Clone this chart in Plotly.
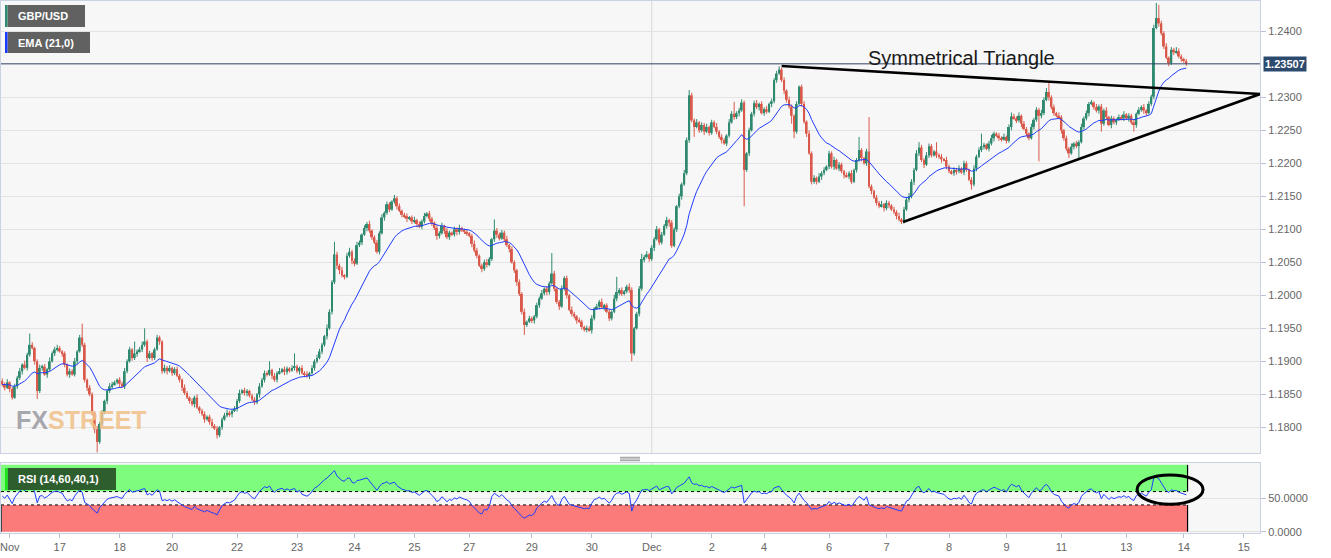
import plotly.graph_objects as go

# ---------------- data ----------------
symbol = "GBP/USD"
ema_label = "EMA (21,0)"
rsi_label = "RSI (14,60,40,1)"
pattern_label = "Symmetrical Triangle"

tick_idx = [3, 23, 47, 68, 94, 118, 141, 165, 187, 212, 236, 260, 284, 305, 331, 354, 379, 402, 424, 450, 473, 497]
tick_text = ["Nov", "17", "18", "20", "22", "23", "24", "25", "27", "29", "30", "Dec",
             "2", "4", "6", "7", "8", "9", "11", "13", "14", "15"]
price_ticks = [1.18, 1.185, 1.19, 1.195, 1.20, 1.205, 1.21, 1.215, 1.22, 1.225, 1.23, 1.24]
rsi_ticks = [0, 50]

first_open_pips = 1870
# hourly closes, in pips above 1.0000
close_pips = [
    1865, 1860, 1868, 1858, 1845, 1862, 1875, 1885, 1895, 1890,
    1910, 1925, 1920, 1900, 1855, 1890, 1892, 1880, 1888, 1900,
    1912, 1918, 1920, 1915, 1912, 1895, 1880, 1885, 1880, 1900,
    1915, 1936, 1925, 1872, 1860, 1850, 1822, 1797, 1778, 1805,
    1822, 1840, 1855, 1862, 1865, 1868, 1872, 1866, 1862, 1885,
    1900, 1918, 1905, 1912, 1915, 1918, 1925, 1930, 1905, 1912,
    1905, 1918, 1936, 1930, 1885, 1890, 1885, 1890, 1882, 1888,
    1878, 1872, 1860, 1852, 1845, 1840, 1835, 1845, 1830, 1825,
    1820, 1812, 1816, 1808, 1802, 1798, 1788, 1800, 1812, 1818,
    1822, 1820, 1825, 1828, 1840, 1852, 1856, 1852, 1855, 1848,
    1842, 1838, 1850, 1862, 1872, 1882, 1880, 1887, 1878, 1872,
    1882, 1885, 1888, 1884, 1889, 1886, 1890, 1892, 1885, 1890,
    1882, 1880, 1878, 1882, 1890, 1900, 1905, 1915, 1925, 1938,
    1950, 1975, 2020, 2062, 2045, 2038, 2030, 2028, 2060, 2066,
    2052, 2048, 2076, 2080, 2092, 2102, 2108, 2098, 2088, 2080,
    2066, 2094, 2118, 2125, 2138, 2130, 2142, 2147, 2135, 2128,
    2122, 2120, 2116, 2118, 2112, 2114, 2108, 2104, 2112, 2120,
    2124, 2116, 2110, 2102, 2090, 2094, 2105, 2098, 2088, 2095,
    2092, 2100, 2096, 2102, 2098, 2096, 2094, 2090, 2078, 2068,
    2060, 2045, 2040, 2050, 2046, 2055, 2085, 2098, 2092, 2086,
    2095, 2085, 2076, 2070, 2050, 2038, 2020, 2002, 1975, 1955,
    1960, 1965, 1962, 1968, 1985, 1995, 2003, 2010, 2005, 2018,
    2033, 2010, 1990, 1983, 2010, 2026, 2000, 1978, 1972, 1968,
    1962, 1960, 1952, 1948, 1950, 1947, 1965, 1980, 1983, 1990,
    1982, 1985, 1975, 1965, 1975, 1995, 2005, 2008, 2002, 2006,
    2013, 2008, 1912, 1950, 1972, 2010, 2055, 2058, 2062, 2055,
    2072, 2085, 2100, 2080, 2092, 2105, 2114, 2110, 2075, 2100,
    2135, 2150, 2168, 2185, 2235, 2303, 2265, 2255, 2262, 2250,
    2258, 2248, 2255, 2246, 2262, 2255, 2248, 2240, 2235, 2230,
    2242, 2262, 2275, 2270, 2276, 2280, 2292, 2190, 2215, 2250,
    2275, 2291, 2285, 2290, 2276, 2282, 2278, 2290, 2294, 2326,
    2336, 2342, 2326, 2310, 2296, 2286, 2272, 2248, 2290, 2316,
    2290, 2263, 2245, 2215, 2172, 2178, 2172, 2180, 2185, 2190,
    2195, 2215, 2195, 2205, 2192, 2198, 2188, 2182, 2180, 2185,
    2172, 2190, 2205, 2220, 2208, 2200, 2218, 2165, 2158, 2148,
    2140, 2135, 2138, 2132, 2140, 2136, 2130, 2126, 2120, 2115,
    2112, 2130, 2145, 2150, 2172, 2190, 2215, 2224, 2205, 2198,
    2212, 2226, 2212, 2218, 2212, 2210, 2206, 2205, 2195, 2188,
    2185, 2190, 2188, 2192, 2186, 2200, 2190, 2175, 2168, 2192,
    2210, 2220, 2226, 2228, 2222, 2230, 2238, 2245, 2242, 2238,
    2236, 2240, 2234, 2255, 2271, 2268, 2265, 2272, 2260, 2252,
    2245, 2238, 2255, 2266, 2281, 2272, 2276, 2296, 2308, 2300,
    2285, 2276, 2272, 2270, 2250, 2238, 2222, 2215, 2225, 2230,
    2226, 2232, 2255, 2268, 2276, 2290, 2292, 2285, 2280, 2286,
    2260, 2280, 2270, 2258, 2268, 2262, 2266, 2270, 2268, 2274,
    2268, 2272, 2262, 2258, 2275, 2281, 2285, 2280, 2276, 2290,
    2301, 2405, 2420, 2412, 2397, 2377, 2360, 2352, 2372, 2368,
    2370, 2362, 2358, 2355, 2350.7,
]
# upper / lower shadow lengths in pips
up_wick = [
    4, 3, 5, 2, 3, 4, 3, 5, 2, 6, 3, 17, 4, 2, 3, 5, 3, 4, 2, 6, 3, 4, 5, 3, 2,
    3, 2, 4, 3, 5, 2, 4, 21, 3, 2, 4, 3, 2, 5, 3, 4, 2, 3, 5, 4, 3, 2, 4, 3, 5,
    3, 4, 2, 18, 3, 4, 5, 20, 3, 4, 2, 3, 4, 3, 2, 5, 3, 4, 2, 3, 4, 3, 2, 5, 3,
    2, 4, 3, 5, 2, 3, 4, 2, 3, 5, 3, 4, 2, 3, 4, 5, 3, 2, 4, 3, 5, 2, 4, 3, 2,
    3, 4, 2, 5, 3, 4, 3, 13, 2, 4, 3, 5, 2, 4, 3, 2, 4, 20, 3, 2, 4, 3, 5, 2, 4,
    3, 5, 4, 3, 2, 6, 4, 3, 19, 4, 3, 5, 2, 4, 6, 3, 4, 5, 3, 2, 4, 3, 5, 2, 3,
    4, 3, 5, 2, 4, 3, 2, 5, 3, 4, 2, 3, 4, 2, 3, 5, 2, 4, 3, 5, 2, 4, 3, 2, 4,
    3, 5, 2, 4, 3, 2, 4, 3, 5, 2, 3, 4, 2, 3, 5, 4, 2, 3, 4, 5, 3, 2, 17, 4, 3,
    4, 3, 5, 2, 4, 3, 2, 4, 3, 5, 2, 4, 3, 2, 4, 3, 5, 2, 4, 3, 31, 4, 2, 3, 5,
    3, 4, 2, 5, 3, 2, 4, 3, 2, 4, 3, 5, 2, 4, 3, 5, 2, 3, 4, 2, 6, 23, 3, 4, 2,
    3, 5, 4, 2, 3, 4, 8, 3, 5, 2, 4, 3, 5, 2, 4, 3, 5, 2, 4, 3, 2, 4, 3, 5, 4,
    8, 4, 3, 5, 2, 4, 3, 5, 2, 4, 3, 6, 2, 4, 3, 2, 5, 4, 18, 3, 4, 5, 3, 2, 4,
    3, 4, 5, 2, 4, 3, 5, 2, 4, 3, 4, 5, 3, 4, 2, 5, 3, 2, 4, 2, 3, 4, 2, 5, 3,
    4, 2, 5, 3, 4, 2, 4, 3, 5, 2, 4, 3, 2, 4, 3, 5, 2, 3, 20, 3, 2, 4, 52, 3, 2,
    4, 3, 5, 2, 4, 3, 2, 4, 3, 5, 2, 4, 3, 5, 4, 3, 5, 8, 4, 3, 5, 4, 3, 2, 14,
    3, 4, 2, 5, 3, 2, 4, 3, 5, 2, 4, 3, 2, 4, 5, 3, 4, 19, 3, 2, 4, 5, 3, 2, 4,
    3, 5, 2, 4, 6, 4, 3, 5, 2, 4, 3, 2, 5, 3, 4, 3, 5, 4, 6, 16, 3, 4, 2, 5, 3,
    2, 4, 3, 5, 2, 4, 3, 5, 3, 4, 3, 4, 2, 5, 3, 4, 3, 5, 2, 4, 3, 2, 4, 3, 5,
    2, 4, 3, 5, 2, 4, 3, 5, 2, 4, 3, 5, 23, 20, 4, 3, 5, 2, 4, 3, 6, 4, 3, 2, 3,
]
dn_wick = [
    3, 4, 2, 5, 3, 2, 4, 3, 5, 2, 4, 3, 2, 5, 12, 3, 4, 2, 5, 3, 2, 4, 3, 2, 5,
    4, 3, 5, 2, 3, 4, 2, 3, 4, 5, 3, 4, 6, 16, 3, 4, 2, 5, 3, 4, 2, 3, 5, 2, 4,
    3, 2, 4, 3, 5, 2, 4, 3, 6, 2, 4, 3, 2, 5, 4, 3, 5, 2, 4, 3, 2, 4, 5, 3, 2,
    4, 3, 5, 2, 4, 3, 5, 2, 4, 3, 2, 5, 3, 4, 2, 3, 4, 5, 2, 4, 3, 2, 4, 5, 3,
    2, 4, 3, 5, 2, 4, 3, 2, 5, 3, 4, 2, 3, 5, 4, 3, 2, 4, 3, 5, 2, 4, 3, 5, 2,
    4, 3, 2, 4, 3, 5, 2, 4, 3, 5, 6, 3, 4, 2, 3, 5, 4, 2, 3, 4, 2, 5, 3, 4, 2,
    3, 4, 2, 5, 3, 4, 2, 3, 5, 2, 4, 3, 5, 2, 4, 3, 5, 2, 4, 3, 2, 4, 5, 3, 6,
    4, 2, 5, 3, 4, 2, 3, 5, 4, 2, 3, 4, 2, 5, 3, 4, 2, 5, 3, 4, 2, 3, 4, 5, 3,
    2, 4, 3, 5, 2, 4, 6, 3, 4, 15, 3, 2, 4, 5, 3, 4, 2, 3, 5, 4, 2, 4, 3, 5, 2,
    3, 5, 2, 4, 3, 5, 2, 4, 3, 4, 2, 5, 3, 2, 4, 3, 5, 2, 4, 3, 2, 4, 5, 3, 2,
    3, 4, 12, 3, 2, 4, 3, 5, 2, 4, 3, 5, 2, 4, 3, 2, 4, 6, 3, 2, 4, 3, 5, 2, 3,
    4, 3, 15, 2, 4, 3, 5, 2, 4, 3, 2, 4, 3, 5, 2, 4, 3, 2, 4, 3, 5, 2, 55, 3, 4,
    2, 4, 3, 5, 2, 4, 3, 2, 5, 3, 4, 2, 3, 5, 4, 3, 12, 10, 3, 2, 4, 3, 5, 2, 4,
    3, 4, 2, 5, 3, 2, 4, 3, 5, 2, 4, 3, 5, 2, 4, 3, 2, 4, 3, 5, 2, 4, 3, 5, 2,
    4, 3, 2, 5, 3, 4, 2, 3, 5, 3, 4, 3, 2, 4, 3, 5, 2, 4, 3, 5, 2, 4, 3, 2, 4,
    3, 5, 2, 4, 3, 2, 4, 5, 3, 2, 4, 3, 2, 8, 3, 4, 2, 3, 5, 2, 4, 3, 5, 2, 4,
    3, 2, 4, 3, 5, 2, 4, 3, 5, 2, 4, 3, 2, 4, 3, 69, 4, 3, 2, 5, 3, 4, 2, 3, 5,
    4, 3, 7, 2, 4, 3, 20, 2, 4, 3, 5, 2, 4, 3, 5, 12, 3, 4, 2, 5, 3, 4, 2, 3, 4,
    2, 5, 3, 10, 4, 2, 3, 5, 4, 2, 3, 4, 2, 5, 3, 4, 2, 5, 3, 4, 2, 3, 4, 3, 3,
]

ema_period = 21
rsi_period = 14
rsi_upper, rsi_lower = 60, 40
rsi_seed_gain, rsi_seed_loss = 3.2, 2.8

# triangle drawing (candle index, price)
tri_upper_x = [312, 503.5]
tri_upper_y = [1.23474, 1.2305]
tri_lower_x = [360.6, 503.5]
tri_lower_y = [1.2111, 1.2305]
pattern_pos = (384, 1.2360)
highlight_x = [454.3, 480.7]
highlight_y = [41, 85]

n = len(close_pips)
if not (len(up_wick) == n and len(dn_wick) == n):
    raise ValueError(f"length mismatch {n} {len(up_wick)} {len(dn_wick)}")

P = lambda v: 1 + v / 10000.0
closes = [P(v) for v in close_pips]
opens = [P(first_open_pips)] + closes[:-1]
highs = [max(o, c) + u / 10000.0 for o, c, u in zip(opens, closes, up_wick)]
lows = [min(o, c) - d / 10000.0 for o, c, d in zip(opens, closes, dn_wick)]
idx = list(range(n))

GREEN = "#2f8a6f"
RED = "#d9594b"

fig = go.Figure()

for is_up, col in [(True, GREEN), (False, RED)]:
    xs, bases, hts, wx, wy = [], [], [], [], []
    for i in idx:
        o, c = opens[i], closes[i]
        if (c >= o) != is_up:
            continue
        xs.append(i)
        bases.append(min(o, c))
        hts.append(max(abs(c - o), 0.00004))
        wx += [i, i, None]
        wy += [lows[i], highs[i], None]
    fig.add_trace(go.Scatter(x=wx, y=wy, mode="lines", line=dict(color=col, width=1),
                             xaxis="x", yaxis="y", hoverinfo="skip", showlegend=False))
    fig.add_trace(go.Bar(x=xs, y=hts, base=bases, width=0.78, marker=dict(color=col, line=dict(width=0)),
                         xaxis="x", yaxis="y", showlegend=False))

# EMA 21
alpha = 2.0 / (ema_period + 1)
ema = [closes[0]]
for c in closes[1:]:
    ema.append(alpha * c + (1 - alpha) * ema[-1])
fig.add_trace(go.Scatter(x=idx, y=ema, mode="lines", line=dict(color="#1f3dff", width=1),
                         xaxis="x", yaxis="y", showlegend=False))

# RSI 14 (Wilder)
ag, al = rsi_seed_gain, rsi_seed_loss
rsi = [100 - 100 / (1 + ag / al)]
for i in range(1, n):
    d = close_pips[i] - close_pips[i - 1]
    ag = (ag * (rsi_period - 1) + max(d, 0)) / rsi_period
    al = (al * (rsi_period - 1) + max(-d, 0)) / rsi_period
    rsi.append(100 - 100 / (1 + ag / al) if al > 0 else 100)
fig.add_trace(go.Scatter(x=idx, y=rsi, mode="lines", line=dict(color="#1f3dff", width=1),
                         xaxis="x2", yaxis="y2", showlegend=False))

# ---------------- layout ----------------
W, H = 1331, 558
ML, MR, MT, MB = 1, 71, 1, 25
PW, PH = W - ML - MR, H - MT - MB
px = lambda x: (x - ML) / PW
py = lambda y: (H - MB - y) / PH

FONT = "Liberation Sans, Arial, sans-serif"
BORDER = "#c9d1e3"
GRID = "#e3e3e3"
xr = [-0.5, 503.5]

shapes = []
annotations = []
band_end = n - 0.5
# RSI bands
shapes.append(dict(type="rect", xref="x2", yref="y2", x0=xr[0], x1=band_end, y0=rsi_upper, y1=100,
                   fillcolor="#7dfc7d", line=dict(width=0), layer="between"))
shapes.append(dict(type="rect", xref="x2", yref="y2", x0=xr[0], x1=band_end, y0=0, y1=rsi_lower,
                   fillcolor="#fb7b7b", line=dict(width=0), layer="between"))
for lv in (rsi_upper, rsi_lower):
    shapes.append(dict(type="line", xref="x2", yref="y2", x0=xr[0], x1=band_end, y0=lv, y1=lv,
                       line=dict(color="black", width=1, dash="dot"), layer="between"))
shapes.append(dict(type="line", xref="x2", yref="y2", x0=band_end, x1=band_end, y0=rsi_upper, y1=100,
                   line=dict(color="black", width=1.2), layer="between"))
shapes.append(dict(type="line", xref="x2", yref="y2", x0=band_end, x1=band_end, y0=0, y1=rsi_lower,
                   line=dict(color="black", width=1.2), layer="between"))
shapes.append(dict(type="line", xref="x2", yref="y2", x0=xr[0] + 0.2, x1=xr[0] + 0.2, y0=0, y1=rsi_lower,
                   line=dict(color="#444", width=1), layer="between"))
# month separator
dec_i = tick_idx[tick_text.index("Dec")]
for yr in ("y domain", "y2 domain"):
    shapes.append(dict(type="line", xref="x", yref=yr, x0=dec_i, x1=dec_i, y0=0, y1=1,
                       line=dict(color="#dcdcdc", width=1), layer="below"))
# last price line
last = closes[-1]
shapes.append(dict(type="line", xref="x domain", yref="y", x0=0, x1=1, y0=last, y1=last,
                   line=dict(color="#2c4262", width=1), layer="above"))
# triangle
shapes.append(dict(type="line", xref="x", yref="y", x0=tri_upper_x[0], x1=tri_upper_x[1],
                   y0=tri_upper_y[0], y1=tri_upper_y[1], line=dict(color="black", width=2.6)))
shapes.append(dict(type="line", xref="x", yref="y", x0=tri_lower_x[0], x1=tri_lower_x[1],
                   y0=tri_lower_y[0], y1=tri_lower_y[1], line=dict(color="black", width=2.6)))
# RSI highlight ellipse
shapes.append(dict(type="circle", xref="x2", yref="y2", x0=highlight_x[0], x1=highlight_x[1],
                   y0=highlight_y[0], y1=highlight_y[1], line=dict(color="black", width=3)))

# legend boxes
def label_box(x0, x1, y0, y1, stripe, fill, text):
    shapes.append(dict(type="rect", xref="paper", yref="paper", x0=px(x0 + 2.5), x1=px(x1),
                       y0=py(y1), y1=py(y0), fillcolor=fill, line=dict(width=0), layer="above"))
    shapes.append(dict(type="rect", xref="paper", yref="paper", x0=px(x0), x1=px(x0 + 2.5),
                       y0=py(y1), y1=py(y0), fillcolor=stripe, line=dict(width=0), layer="above"))
    annotations.append(dict(xref="paper", yref="paper", x=px(x0 + 11), y=py((y0 + y1) / 2),
                            xanchor="left", yanchor="middle", showarrow=False, text=f"<b>{text}</b>",
                            font=dict(family=FONT, size=11, color="white")))

label_box(5, 85, 5, 27, "#2f8a6f", "#616161", symbol)
label_box(5, 90, 32, 53, "#1a3cff", "#616161", ema_label)
label_box(5, 116, 468, 490, "#19e619", "#2e5e2e", rsi_label)

# splitter handle
for yy in (457.3, 459.0, 460.7):
    shapes.append(dict(type="line", xref="paper", yref="paper", x0=px(620), x1=px(640), y0=py(yy), y1=py(yy),
                       line=dict(color="#777", width=0.8)))

# pattern title
annotations.append(dict(xref="x", yref="y", x=pattern_pos[0], y=pattern_pos[1], showarrow=False,
                        text=pattern_label, font=dict(family=FONT, size=20, color="#1a1a1a"),
                        xanchor="center", yanchor="middle"))
# last price tag
annotations.append(dict(xref="paper", yref="y", x=1, y=last, xanchor="left", yanchor="middle",
                        xshift=3, showarrow=False, text=f"<b>{last:.5f}</b>",
                        font=dict(family=FONT, size=11, color="white"), bgcolor="#2c4a6e",
                        borderpad=1))
# watermark
annotations.append(dict(xref="paper", yref="paper", x=px(14), y=py(420), xanchor="left", yanchor="middle",
                        showarrow=False, opacity=0.85,
                        text="<b><span style='color:#9a9aa2'>FX</span><span style='color:#f1c089'>STREET</span></b>",
                        font=dict(family=FONT, size=25)))

main_bottom = py(453)
rsi_top = py(463)

fig.update_layout(
    width=W, height=H,
    margin=dict(l=ML, r=MR, t=MT, b=MB, autoexpand=False),
    paper_bgcolor="white", plot_bgcolor="#f7f7f7",
    barmode="overlay", showlegend=False, hovermode=False,
    font=dict(family=FONT, size=11, color="#666"),
    shapes=shapes, annotations=annotations,
    xaxis=dict(domain=[0, 1], anchor="y", range=xr, showticklabels=False, showgrid=False,
               zeroline=False, showline=True, mirror=True, linecolor=BORDER, ticks="", automargin=False),
    yaxis=dict(domain=[main_bottom, 1], anchor="x", side="right", range=[1.17611, 1.24459],
               tickmode="array", tickvals=price_ticks, tickformat=".4f", showgrid=True, gridcolor=GRID,
               zeroline=False, showline=True, mirror=True, linecolor=BORDER, automargin=False,
               ticks="outside", ticklen=5, tickcolor="#b9c3d8", tickfont=dict(size=11, color="#666")),
    xaxis2=dict(domain=[0, 1], anchor="y2", matches="x", range=xr, tickmode="array",
                tickvals=tick_idx, ticktext=tick_text, showgrid=False, zeroline=False,
                showline=True, mirror=True, linecolor=BORDER, ticks="outside", ticklen=4, automargin=False,
                ticklabeloverflow="allow",
                tickcolor="#b9c3d8", tickfont=dict(size=11, color="#666")),
    yaxis2=dict(domain=[0, rsi_top], anchor="x2", side="right", range=[-2, 102.8],
                tickmode="array", tickvals=rsi_ticks, tickformat=".4f", showgrid=True, gridcolor=GRID,
                zeroline=False, showline=True, mirror=True, linecolor=BORDER, automargin=False,
                ticks="outside", ticklen=5, tickcolor="#b9c3d8", tickfont=dict(size=11, color="#666")),
)

fig.write_html("out.html", config={"displayModeBar": False},
               post_script="document.body.style.margin='0';document.body.style.overflow='hidden';")
